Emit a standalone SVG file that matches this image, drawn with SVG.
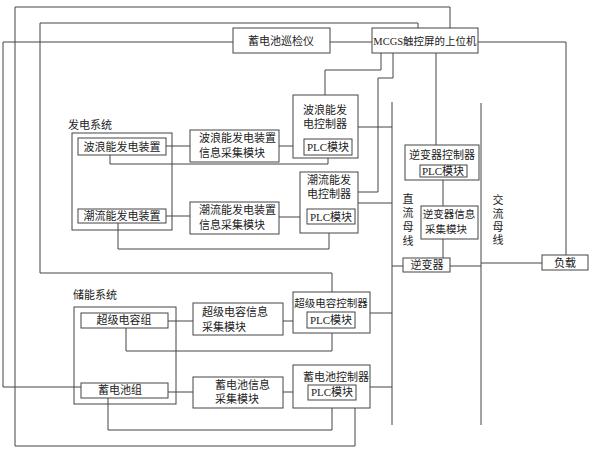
<svg xmlns="http://www.w3.org/2000/svg" width="593" height="450" viewBox="0 0 593 450">
<style>
rect{fill:#fff;stroke:#444;stroke-width:1}
.c path, .c line{fill:none;stroke:#444;stroke-width:1}
text{font-family:"Liberation Serif","Noto Sans CJK SC",serif;font-size:11px;fill:#222;dominant-baseline:central}
.m{text-anchor:middle}
.s{font-size:10.5px}
</style>
<rect x="0" y="0" width="593" height="450" style="fill:#fff;stroke:none"/>
<g class="c" id="connectors">
<path d="M450 28 V7 H15 V446 H355 V408"/>
<path d="M418 28 V23 H40 V273 H332 V292"/>
<path d="M233 42 H3 V387 H81"/>
<path d="M330 42 H372"/>
<path d="M478 42 H566 V255"/>
<path d="M381 53 V70 H325 V95"/>
<path d="M393 53 V78 H378 V192 H358"/>
<path d="M436 53 V145"/>
<path d="M358 127 H392"/>
<path d="M358 203 H392"/>
<path d="M166 146 H190 M279 146 H293"/>
<path d="M166 216 H190 M279 217 H300"/>
<path d="M110 155 V164 H328 V158"/>
<path d="M118 223 V249 H329 V233"/>
<path d="M392 102 V425"/>
<path d="M481 103 V425"/>
<path d="M443 180 V206 M443 239 V258"/>
<path d="M392 266 H403 M450 266 H481 M481 263 H542"/>
<path d="M168 321 H193 M283 321 H293"/>
<path d="M168 392 H193 M283 392 H293"/>
<path d="M126 328 V351 H332 V333"/>
<path d="M108 398 V430 H332 V408"/>
<path d="M370 313 H392"/>
<path d="M370 387 H392"/>
</g>
<g id="inspector"><rect x="233" y="28" width="97" height="25"/><text class="m" x="281" y="41">蓄电池巡检仪</text></g>
<g id="mcgs"><rect x="372" y="28" width="106" height="25"/><text class="m s" x="425" y="41">MCGS触控屏的上位机</text></g>
<g id="gen-system"><text x="68" y="125">发电系统</text><rect x="72" y="133" width="100" height="97" style="fill:none"/></g>
<g id="wave-device"><rect x="78" y="138" width="88" height="17"/><text class="m" x="122" y="147">波浪能发电装置</text></g>
<g id="tidal-device"><rect x="78" y="209" width="88" height="14"/><text class="m" x="122" y="216">潮流能发电装置</text></g>
<g id="wave-info"><rect x="190" y="130" width="89" height="32"/><text x="199" y="138">波浪能发电装置</text><text x="199" y="153">信息采集模块</text></g>
<g id="tidal-info"><rect x="190" y="202" width="89" height="32"/><text x="199" y="210">潮流能发电装置</text><text x="199" y="225">信息采集模块</text></g>
<g id="wave-ctrl"><rect x="293" y="95" width="65" height="63"/><text class="m" x="325" y="110">波浪能发</text><text class="m" x="325" y="124">电控制器</text><rect x="304" y="139" width="48" height="16"/><text class="m" x="328" y="147">PLC模块</text></g>
<g id="tidal-ctrl"><rect x="300" y="172" width="58" height="61"/><text class="m" x="329" y="180">潮流能发</text><text class="m" x="329" y="194">电控制器</text><rect x="307" y="209" width="48" height="15"/><text class="m" x="331" y="217">PLC模块</text></g>
<g id="inv-ctrl"><rect x="405" y="145" width="74" height="35"/><text class="m" x="442" y="155">逆变器控制器</text><rect x="420" y="165" width="47" height="12"/><text class="m" x="443" y="171">PLC模块</text></g>
<g id="inv-info"><rect x="421" y="206" width="57" height="33"/><text class="m s" x="449" y="214">逆变器信息</text><text class="m s" x="446" y="229">采集模块</text></g>
<g id="inverter"><rect x="403" y="258" width="47" height="14"/><text class="m" x="427" y="265">逆变器</text></g>
<g id="load"><rect x="542" y="255" width="46" height="15"/><text class="m" x="565" y="263">负载</text></g>
<g id="dc-bus"><text class="m" x="408" y="199">直</text><text class="m" x="408" y="213">流</text><text class="m" x="408" y="227">母</text><text class="m" x="408" y="241">线</text></g>
<g id="ac-bus"><text class="m" x="498" y="200">交</text><text class="m" x="498" y="214">流</text><text class="m" x="498" y="227">母</text><text class="m" x="498" y="240">线</text></g>
<g id="storage-system"><text x="73" y="295">储能系统</text><rect x="74" y="307" width="102" height="97" style="fill:none"/></g>
<g id="supercap"><rect x="81" y="313" width="87" height="15"/><text class="m" x="124" y="320">超级电容组</text></g>
<g id="battery"><rect x="81" y="383" width="87" height="15"/><text class="m" x="120" y="390">蓄电池组</text></g>
<g id="supercap-info"><rect x="193" y="303" width="90" height="32"/><text x="202" y="312">超级电容信息</text><text x="202" y="327">采集模块</text></g>
<g id="battery-info"><rect x="193" y="377" width="90" height="31"/><text x="215" y="385">蓄电池信息</text><text x="215" y="399">采集模块</text></g>
<g id="supercap-ctrl"><rect x="293" y="292" width="77" height="41"/><text class="m s" x="331" y="303">超级电容控制器</text><rect x="307" y="312" width="48" height="16"/><text class="m" x="331" y="320">PLC模块</text></g>
<g id="battery-ctrl"><rect x="293" y="365" width="77" height="43"/><text class="m" x="336" y="377">蓄电池控制器</text><rect x="308" y="385" width="48" height="15"/><text class="m" x="332" y="392">PLC模块</text></g>
</svg>
